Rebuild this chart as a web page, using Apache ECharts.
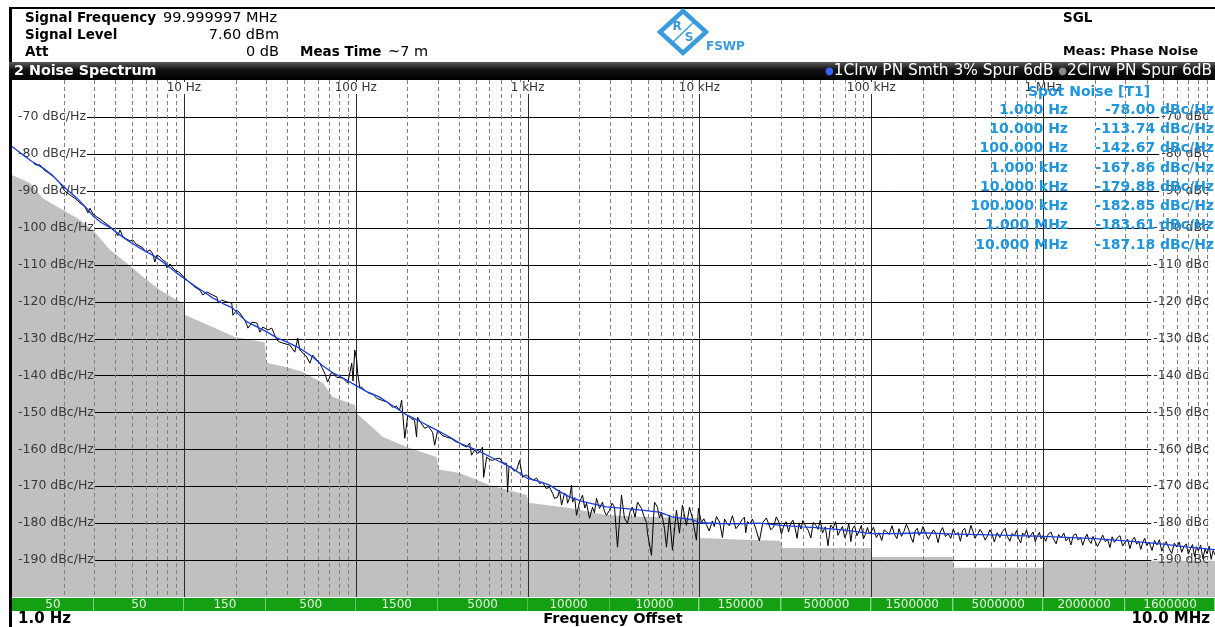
<!DOCTYPE html>
<html>
<head>
<meta charset="utf-8">
<title>FSWP Phase Noise</title>
<script src="https://cdn.jsdelivr.net/npm/echarts@6/dist/echarts.min.js"></script>
<style>
  html, body { margin: 0; padding: 0; background: #fff; }
  #chart { width: 1215px; height: 627px; }
</style>
</head>
<body>
<div id="chart"></div>
<script>
const FONT = 'Tahoma, "DejaVu Sans", sans-serif'
const SPOT_BLUE = '#1f95dc'
const AXIS_FS = 12.5

// y grid / tick labels (dBc/Hz)
const yTicks = [-70, -80, -90, -100, -110, -120, -130, -140, -150, -160, -170, -180, -190]
// decade lines and minor multipliers for the log x grid
const decades = [10, 100, 1e3, 1e4, 1e5, 1e6]
const minorSteps = [2, 3, 4, 5, 6, 7, 8, 9]

// RBW bar under the plot
const rbwFrom = [1, 3, 10, 30, 100, 300, 1e3, 3e3, 1e4, 3e4, 1e5, 3e5, 1e6, 3e6]
const rbwTo = [3, 10, 30, 100, 300, 1e3, 3e3, 1e4, 3e4, 1e5, 3e5, 1e6, 3e6, 1e7]
const rbwLabels = ['50', '50', '150', '500', '1500', '5000', '10000', '10000', '150000', '500000', '1500000', '5000000', '2000000', '1600000']

// spot noise table
const spotFreqs = ['1.000 Hz', '10.000 Hz', '100.000 Hz', '1.000 kHz', '10.000 kHz', '100.000 kHz', '1.000 MHz', '10.000 MHz']
const spotNoise = [-78.00, -113.74, -142.67, -167.86, -179.88, -182.85, -183.61, -187.18]

// grey trace (noise floor), [Hz, dBc/Hz]
const noiseFloor = [
  [1, -85.7], [1.27, -87.9], [1.51, -92.0], [1.9, -94.7], [2.39, -97.4], [2.96, -100.6],
  [3.71, -106.0], [4.66, -109.6], [5.78, -113.3], [7.25, -116.9], [9.1, -119.6], [9.95, -120.4],
  [10.1, -123.6], [14.7, -126.9], [19.8, -129.6], [29.5, -131.0], [30.4, -136.6], [41.3, -138.0],
  [49.2, -139.1], [64.3, -142.0], [73.5, -145.8], [92.3, -147.5], [99, -148.0], [101, -150.2],
  [144, -156.7], [198, -159.4], [295, -162.1], [305, -165.5], [402, -166.4], [601, -169.7],
  [990, -172.4], [1010, -174.5], [1750, -175.9], [2880, -177.8], [4480, -178.3], [9900, -178.6],
  [10100, -184.0], [22300, -184.6], [29500, -184.8], [30500, -186.7], [99000, -186.7],
  [101000, -189.2], [297000, -189.2], [303000, -192.1], [990000, -192.1], [1010000, -190.2],
  [1e7, -190.2]
]

// black trace (raw phase noise with spurs), [Hz, dBc/Hz]
const tracePn = [
  [1.33, -82.5], [1.38, -83.0], [1.46, -83.0], [1.54, -84.4], [1.66, -85.4], [1.78, -86.5],
  [1.9, -87.9], [2.03, -90.1], [2.17, -91.1], [2.32, -92.0], [2.49, -93.3], [2.66, -94.4],
  [2.77, -96.0], [2.84, -94.7], [2.96, -96.3], [3.12, -97.1], [3.25, -97.6], [3.43, -98.5],
  [3.62, -99.3], [3.81, -100.1], [4.02, -101.2], [4.13, -102.2], [4.25, -100.6], [4.42, -102.5],
  [4.66, -103.1], [4.86, -103.6], [5.05, -103.3], [5.26, -104.4], [5.55, -105.0], [5.78, -105.5],
  [6.01, -106.6], [6.35, -106.0], [6.6, -107.1], [6.78, -109.3], [6.97, -107.4], [7.26, -107.9],
  [7.55, -108.8], [7.86, -109.3], [7.96, -110.9], [8.3, -109.8], [8.63, -110.9], [8.98, -111.7],
  [9.35, -112.0], [9.74, -112.8], [10.1, -113.6],
  [11.6, -116.1], [12.4, -116.9], [12.9, -118.2], [13.6, -117.4], [14.7, -118.2], [15.6, -118.8],
  [15.8, -120.4], [16.6, -119.6], [17.8, -120.1], [19.0, -120.4], [19.3, -123.7], [20.3, -122.3],
  [21.2, -123.1], [22.6, -125.0], [23.3, -126.4], [23.6, -127.2], [24.9, -125.6], [26.6, -125.8],
  [27.7, -128.3], [28.8, -126.9], [30.8, -127.7], [32.5, -127.2], [34.7, -130.4], [36.2, -131.0],
  [41.4, -131.8], [44.2, -133.7], [46.0, -129.9], [47.3, -133.1], [51.9, -135.0], [54.1, -136.7],
  [56.2, -134.5], [61.8, -136.7], [66.0, -139.4], [68.7, -141.8], [72.5, -139.1], [77.5, -140.5],
  [84.0, -140.7], [89.9, -142.1], [94.8, -136.7], [96.5, -141.5], [98.7, -133.1], [101.3, -135.9],
  [102.7, -139.4], [105.5, -143.2],
  [108.4, -143.2], [112.8, -144.0], [120, -144.9], [126, -145.1], [132.5, -146.2], [141.6, -146.7],
  [152, -147.2], [164, -148.6], [172, -148.3], [180, -149.4], [185, -146.7], [193, -157.0],
  [201, -150.8], [210, -151.7], [220, -152.1], [226, -156.7], [229, -151.3], [240, -152.9],
  [252, -154.3], [265, -153.8], [280, -155.4], [288, -158.9], [300, -154.8], [318, -156.2],
  [338, -156.7], [360, -157.1], [380, -157.9], [402, -158.3], [420, -158.9], [442, -159.4],
  [460, -158.3], [472, -161.6], [492, -160.2], [512, -161.1], [530, -160.6], [547, -159.4],
  [555, -167.6], [578, -162.1], [600, -162.8], [626, -163.0], [655, -162.6], [687, -162.4],
  [720, -163.7], [755, -163.8], [765, -171.6], [780, -164.6], [807, -164.9], [835, -165.9],
  [863, -165.7], [898, -163.0], [935, -167.6], [980, -166.9],
  [1027, -167.6], [1080, -168.4], [1128, -167.8], [1175, -169.3], [1222, -168.9], [1280, -170.6],
  [1343, -170.3], [1398, -171.9], [1435, -173.3], [1494, -173.0], [1535, -171.1], [1577, -175.1],
  [1641, -171.9], [1686, -172.4], [1708, -174.6], [1755, -173.2], [1803, -169.7], [1826, -174.3],
  [1880, -173.1], [1927, -177.9], [2006, -174.3], [2088, -172.4], [2150, -175.9], [2203, -174.6],
  [2294, -178.7], [2388, -175.7], [2450, -177.2], [2519, -173.3], [2622, -176.0], [2729, -174.3],
  [2800, -176.8], [2879, -177.9], [2998, -176.5], [3100, -174.6], [3205, -175.7], [3337, -186.5],
  [3520, -172.4], [3664, -178.7], [3814, -180.0], [3950, -176.9], [4078, -175.7], [4220, -178.4],
  [4361, -174.3], [4601, -176.0], [4760, -178.2], [4919, -179.8], [4985, -182.7], [5259, -188.7],
  [5475, -174.3], [5698, -175.7], [5850, -178.6], [6013, -177.0], [6259, -181.4], [6429, -186.5],
  [6693, -177.9], [6966, -187.3], [7350, -176.5], [7650, -182.7], [7963, -175.1], [8404, -180.6],
  [8749, -175.7], [9107, -178.7], [9607, -184.6], [9867, -176.0],
  [10270, -179.9], [10600, -178.8], [10980, -180.4], [11400, -182.1], [11900, -179.4], [12200, -180.9],
  [12560, -178.2], [13100, -179.7], [13610, -183.9], [14000, -178.9], [14350, -179.8], [14900, -180.7],
  [15560, -178.0], [16300, -181.5], [17090, -180.3], [17700, -179.1], [18260, -178.4], [18600, -182.6],
  [19020, -179.6], [19700, -180.2], [20330, -178.9], [21300, -181.6], [22330, -184.8], [23400, -179.8],
  [24500, -178.6], [25200, -180.0], [26000, -181.8], [27000, -181.1], [28000, -178.3], [29000, -179.7],
  [30000, -183.0], [31000, -180.7], [32000, -179.6], [33000, -182.4], [34000, -180.0], [35000, -179.2],
  [36000, -181.3], [37000, -184.1], [38000, -179.9], [39000, -181.6], [40000, -179.3], [41500, -180.8],
  [43000, -182.0], [44500, -184.0], [46000, -179.8], [47500, -180.6], [49000, -181.7], [50500, -179.2],
  [52000, -182.7], [54000, -181.0], [56000, -186.1], [58000, -180.5], [60000, -181.4], [62000, -179.6],
  [64000, -183.3], [66000, -181.9], [68000, -180.9], [70000, -183.9], [72000, -182.6], [74000, -180.1],
  [76000, -185.0], [78000, -181.4], [80000, -180.7], [82500, -183.4], [85000, -182.2], [87500, -180.6],
  [90000, -184.3], [92500, -183.0], [95000, -181.2], [97500, -182.9],
  [100000, -182.3], [103000, -181.1], [107000, -183.9], [111000, -182.6], [115000, -184.7], [119000, -181.8],
  [123000, -182.4], [127000, -183.1], [132000, -180.7], [136000, -182.9], [141000, -184.2], [145000, -181.5],
  [150000, -183.6], [155000, -182.2], [160000, -180.3], [165000, -181.7], [170000, -183.8], [175000, -185.2],
  [180000, -182.1], [185000, -181.4], [190000, -183.3], [195000, -182.5], [200000, -180.9], [207000, -182.8],
  [215000, -184.4], [222000, -183.0], [230000, -181.8], [237000, -182.7], [245000, -185.3], [252000, -182.4],
  [260000, -181.2], [270000, -183.6], [280000, -182.9], [290000, -184.1], [300000, -181.6], [310000, -183.2],
  [320000, -182.5], [330000, -184.9], [340000, -182.0], [350000, -181.4], [360000, -183.7], [370000, -182.8],
  [380000, -180.6], [390000, -182.2], [400000, -184.0], [415000, -183.1], [430000, -181.7], [445000, -182.9],
  [460000, -184.6], [475000, -183.4], [490000, -181.8], [505000, -183.0], [520000, -185.1], [540000, -182.6],
  [560000, -183.9], [580000, -182.2], [600000, -181.5], [620000, -183.7], [640000, -184.9], [660000, -182.8],
  [680000, -183.5], [700000, -182.0], [720000, -184.2], [740000, -185.4], [760000, -182.7], [780000, -183.3],
  [800000, -181.9], [825000, -184.0], [850000, -183.2], [875000, -182.4], [900000, -185.0], [925000, -183.6],
  [950000, -182.5], [975000, -184.3],
  [1.0e6, -183.4], [1.035e6, -184.9], [1.07e6, -183.0], [1.11e6, -182.4], [1.15e6, -184.3], [1.19e6, -185.6],
  [1.23e6, -183.1], [1.27e6, -184.0], [1.32e6, -182.7], [1.36e6, -184.8], [1.41e6, -183.9], [1.45e6, -185.9],
  [1.5e6, -183.3], [1.55e6, -182.9], [1.6e6, -184.6], [1.65e6, -183.8], [1.7e6, -186.0], [1.75e6, -184.2],
  [1.8e6, -183.0], [1.85e6, -184.7], [1.9e6, -185.5], [1.95e6, -183.6], [2.0e6, -184.1], [2.07e6, -186.3],
  [2.15e6, -184.8], [2.22e6, -183.2], [2.3e6, -185.0], [2.37e6, -184.4], [2.45e6, -186.6], [2.52e6, -183.7],
  [2.6e6, -185.2], [2.7e6, -184.0], [2.8e6, -183.4], [2.9e6, -186.2], [3.0e6, -185.1], [3.1e6, -184.3],
  [3.2e6, -186.9], [3.3e6, -184.6], [3.4e6, -183.8], [3.5e6, -185.7], [3.6e6, -184.9], [3.7e6, -187.1],
  [3.8e6, -185.2], [3.9e6, -184.1], [4.0e6, -186.0], [4.15e6, -185.3], [4.3e6, -187.4], [4.45e6, -184.7],
  [4.6e6, -185.9], [4.75e6, -184.5], [4.9e6, -187.6], [5.05e6, -186.1], [5.2e6, -185.0], [5.4e6, -186.8],
  [5.6e6, -188.2], [5.8e6, -185.4], [6.0e6, -186.5], [6.2e6, -185.1], [6.4e6, -187.9], [6.6e6, -186.3],
  [6.8e6, -185.6], [7.0e6, -188.4], [7.2e6, -186.9], [7.4e6, -185.8], [7.6e6, -189.0], [7.8e6, -186.4],
  [8.0e6, -187.5], [8.25e6, -185.9], [8.5e6, -189.6], [8.75e6, -187.0], [9.0e6, -188.3], [9.25e6, -186.2],
  [9.5e6, -189.8], [9.75e6, -187.4], [1.0e7, -188.6]
]

// blue trace (smoothed 3%), [Hz, dBc/Hz]
const traceSmooth = [
  [1, -78.0], [1.16, -80.3], [1.3, -82.0], [1.51, -83.8], [1.7, -85.6], [1.9, -87.9], [2.1, -89.8],
  [2.39, -92.0], [2.7, -94.6], [2.96, -96.8], [3.3, -98.6], [3.71, -99.9], [4.2, -101.8], [4.66, -103.3],
  [5.2, -104.7], [5.78, -106.0], [6.5, -107.3], [7.25, -108.7], [8.2, -110.6], [9.1, -112.3], [10, -113.7],
  [11.9, -116.1], [13.5, -117.8], [14.7, -119.0], [17, -120.6], [19.2, -121.7], [21, -123.6], [23.3, -125.5],
  [26.5, -126.8], [30.4, -128.2], [35, -129.9], [39.6, -130.9], [47.1, -132.6], [56.3, -135.0], [64, -137.3],
  [73.5, -139.3], [85, -140.8], [100, -142.7], [116, -144.4], [137, -145.8], [165, -148.3], [198, -150.7],
  [240, -152.6], [296, -154.8], [350, -156.6], [402, -158.3], [506, -160.2], [580, -161.6], [659, -162.9],
  [800, -164.9], [1000, -167.9], [1150, -168.6], [1344, -169.7], [1530, -171.4], [1754, -172.9],
  [2100, -174.2], [2880, -175.6], [3600, -176.0], [4480, -176.4], [5840, -177.0], [6950, -178.3],
  [9140, -179.1], [10000, -179.9], [13000, -180.1], [16900, -180.2], [22330, -180.0], [30000, -180.6],
  [40000, -181.0], [50000, -181.3], [70000, -181.9], [100000, -182.85], [150000, -182.8], [200000, -182.6],
  [300000, -183.0], [500000, -183.2], [700000, -183.4], [1e6, -183.61], [2e6, -184.2], [3e6, -184.8],
  [4e6, -185.3], [5e6, -185.7], [7e6, -186.5], [1e7, -187.18]
]

const measureCtx = document.createElement('canvas').getContext('2d')
function textWidth(text, size) {
  measureCtx.font = size + 'px ' + FONT
  return measureCtx.measureText(text).width
}

function freqLabel(v) {
  const f = Math.round(v)
  if (f >= 1e6) return f / 1e6 + ' MHz'
  if (f >= 1e3) return f / 1e3 + ' kHz'
  return f + ' Hz'
}

const vLines = []
decades.forEach(d => vLines.push([d, -200, 1]))
;[1, 10, 100, 1e3, 1e4, 1e5, 1e6].forEach(d => {
  minorSteps.forEach(m => vLines.push([d * m, -200, 0]))
})

function txt(x, y, text, opts) {
  return {
    type: 'text', x: x, y: y, z: 100, silent: true,
    style: Object.assign({
      text: text, fill: '#000', font: '13px ' + FONT,
      align: 'left', verticalAlign: 'middle', textAlign: 'left', textVerticalAlign: 'middle'
    }, opts || {})
  }
}
function bold(size) {
  return 'bold ' + size + 'px ' + FONT
}

const LOGO = '#3a9bdc'
const graphics = [
  // frame
  { type: 'rect', z: 100, shape: { x: 9, y: 7, width: 1206, height: 2 }, style: { fill: '#000' } },
  { type: 'rect', z: 100, shape: { x: 9, y: 7, width: 3, height: 620 }, style: { fill: '#000' } },
  // header
  txt(25, 18, 'Signal Frequency', { font: bold(13.5) }),
  txt(163, 18, '99.999997 MHz', { font: '14.5px ' + FONT }),
  txt(25, 35, 'Signal Level', { font: bold(13.5) }),
  txt(279, 35, '7.60 dBm', { font: '14.5px ' + FONT, align: 'right', textAlign: 'right' }),
  txt(25, 52, 'Att', { font: bold(13.5) }),
  txt(279, 52, '0 dB', { font: '14.5px ' + FONT, align: 'right', textAlign: 'right' }),
  txt(300, 52, 'Meas Time', { font: bold(13.5) }),
  txt(388, 52, '~7 m', { font: '14.5px ' + FONT }),
  txt(1063, 18, 'SGL', { font: bold(13.5) }),
  txt(1063, 52, 'Meas: Phase Noise', { font: bold(12.8) }),
  // logo
  { type: 'polygon', z: 100, shape: { points: [[683, 11], [706, 32], [683, 53], [660, 32]] },
    style: { fill: 'none', stroke: LOGO, lineWidth: 4.5 } },
  { type: 'line', z: 100, shape: { x1: 694, y1: 22, x2: 672, y2: 43 }, style: { stroke: LOGO, lineWidth: 1.5 } },
  txt(677, 27, 'R', { font: bold(12), fill: LOGO, align: 'center', textAlign: 'center' }),
  txt(689, 38, 'S', { font: bold(12), fill: LOGO, align: 'center', textAlign: 'center' }),
  txt(706, 47, 'FSWP', { font: bold(12), fill: LOGO }),
  // title bar
  { type: 'rect', z: 100, shape: { x: 9, y: 62, width: 1206, height: 18 },
    style: { fill: new echarts.graphic.LinearGradient(0, 0, 0, 1, [
      { offset: 0, color: '#5a5a5a' }, { offset: 0.45, color: '#111' }, { offset: 1, color: '#000' }]) } },
  txt(14, 71, '2 Noise Spectrum', { font: bold(14.3), fill: '#fff' }),
  txt(1212, 71, '{b|●}1Clrw PN Smth 3% Spur 6dB {g|●}2Clrw PN Spur 6dB', {
    font: '15.4px ' + FONT, fill: '#fff', align: 'right', textAlign: 'right',
    rich: { b: { fill: '#3d63ff', font: '10px ' + FONT }, g: { fill: '#8a8a8a', font: '10px ' + FONT } }
  }),
  // spot noise table
  txt(1089, 92, 'Spot Noise [T1]', { font: bold(14), fill: SPOT_BLUE, align: 'center', textAlign: 'center' }),
  // bottom
  txt(18, 619, '1.0 Hz', { font: bold(15) }),
  txt(613, 619, 'Frequency Offset', { font: bold(14.5), align: 'center', textAlign: 'center' }),
  txt(1210, 619, '10.0 MHz', { font: bold(15), align: 'right', textAlign: 'right' })
]
spotFreqs.forEach((f, i) => {
  const y = 110 + i * 19.3
  graphics.push(txt(1068, y, f, { font: bold(14), fill: SPOT_BLUE, align: 'right', textAlign: 'right' }))
  graphics.push(txt(1214, y, spotNoise[i].toFixed(2) + ' dBc/Hz', { font: bold(14), fill: SPOT_BLUE, align: 'right', textAlign: 'right' }))
})

const chart = echarts.init(document.getElementById('chart'), null, { renderer: 'canvas' })
chart.setOption({
  animation: false,
  backgroundColor: '#fff',
  grid: { left: 12, right: 0, top: 80, bottom: 30 },
  xAxis: {
    type: 'log',
    logBase: 10,
    min: 1,
    max: 1e7,
    position: 'top',
    z: 5,
    axisLine: { show: false },
    axisTick: { show: false },
    splitLine: { show: false },
    axisLabel: {
      inside: true,
      margin: 2,
      showMinLabel: false,
      showMaxLabel: false,
      formatter: freqLabel,
      color: '#333',
      fontSize: 12,
      fontFamily: FONT,
      backgroundColor: '#fff',
      padding: [0, 1]
    }
  },
  yAxis: [{
    type: 'value',
    min: -200,
    max: -60,
    interval: 10,
    position: 'left',
    z: 2,
    axisLine: { show: false },
    axisTick: { show: false },
    splitLine: { show: false },
    axisLabel: {
      inside: true,
      margin: 6,
      showMinLabel: false,
      showMaxLabel: false,
      formatter: v => v + ' dBc/Hz',
      color: '#3a3a3a',
      fontSize: AXIS_FS,
      fontFamily: FONT
    }
  }, {
    type: 'value',
    min: -200,
    max: -60,
    interval: 10,
    position: 'right',
    z: 2,
    axisLine: { show: false },
    axisTick: { show: false },
    splitLine: { show: false },
    axisLabel: {
      inside: true,
      margin: 6,
      showMinLabel: false,
      showMaxLabel: false,
      formatter: v => v + ' dBc',
      color: '#3a3a3a',
      fontSize: AXIS_FS,
      fontFamily: FONT
    }
  }],
  series: [
    {
      name: 'noise floor',
      type: 'line',
      data: noiseFloor,
      symbol: 'none',
      silent: true,
      z: 1,
      lineStyle: { width: 0, color: '#c0c0c0' },
      areaStyle: { color: '#c0c0c0', opacity: 1, origin: 'start' }
    },
    {
      // horizontal grid, broken where the labels sit
      type: 'custom',
      silent: true,
      clip: false,
      z: 2,
      data: yTicks.map(v => [1, v]),
      encode: { x: 0, y: 1 },
      renderItem(params, api) {
        const cs = params.coordSys
        const v = api.value(1)
        const y = Math.round(api.coord([1, v])[1]) + 0.5
        const x0 = cs.x + 6 + textWidth(v + ' dBc/Hz', AXIS_FS) + 1
        const x1 = cs.x + cs.width - 6 - textWidth(v + ' dBc', AXIS_FS) - 2
        return {
          type: 'line',
          shape: { x1: x0, y1: y, x2: x1, y2: y },
          style: { stroke: '#000', lineWidth: 1 }
        }
      }
    },
    {
      // vertical grid: decades solid, 2..9 dashed
      type: 'custom',
      silent: true,
      clip: false,
      z: 2,
      data: vLines,
      encode: { x: 0, y: 1 },
      renderItem(params, api) {
        const cs = params.coordSys
        const major = api.value(2) === 1
        const x = Math.round(api.coord([api.value(0), -200])[0]) + 0.5
        return {
          type: 'line',
          shape: { x1: x, y1: cs.y, x2: x, y2: cs.y + cs.height },
          style: { stroke: major ? '#2b2b2b' : '#808080', lineWidth: 1, lineDash: major ? null : [4, 3] }
        }
      }
    },
    {
      // RBW bar
      type: 'custom',
      silent: true,
      clip: false,
      z: 2,
      data: rbwFrom.map((f, i) => [f, -200, rbwTo[i]]),
      encode: { x: [0, 2], y: 1 },
      renderItem(params, api) {
        const cs = params.coordSys
        const x0 = api.coord([api.value(0), -200])[0]
        const x1 = api.coord([api.value(2), -200])[0]
        const y0 = cs.y + cs.height + 1
        return {
          type: 'group',
          children: [
            { type: 'rect', shape: { x: x0, y: y0, width: x1 - x0, height: 13 }, style: { fill: '#13a013' } },
            { type: 'line', shape: { x1: Math.round(x1) - 0.5, y1: y0, x2: Math.round(x1) - 0.5, y2: y0 + 13 },
              style: { stroke: '#86d486', lineWidth: 1 } },
            { type: 'text', style: {
              text: rbwLabels[params.dataIndex], x: (x0 + x1) / 2, y: y0 + 7,
              align: 'center', verticalAlign: 'middle', textAlign: 'center', textVerticalAlign: 'middle',
              fill: '#e4f4de', font: '12px ' + FONT
            } }
          ]
        }
      }
    },
    {
      name: '2Clrw PN Spur 6dB',
      type: 'line',
      data: tracePn,
      symbol: 'none',
      silent: true,
      z: 3,
      lineStyle: { color: '#000', width: 1 }
    },
    {
      name: '1Clrw PN Smth 3% Spur 6dB',
      type: 'line',
      data: traceSmooth,
      symbol: 'none',
      silent: true,
      z: 4,
      lineStyle: { color: '#1a3fe0', width: 1.3 }
    }
  ],
  graphic: { elements: graphics }
})
</script>
</body>
</html>
